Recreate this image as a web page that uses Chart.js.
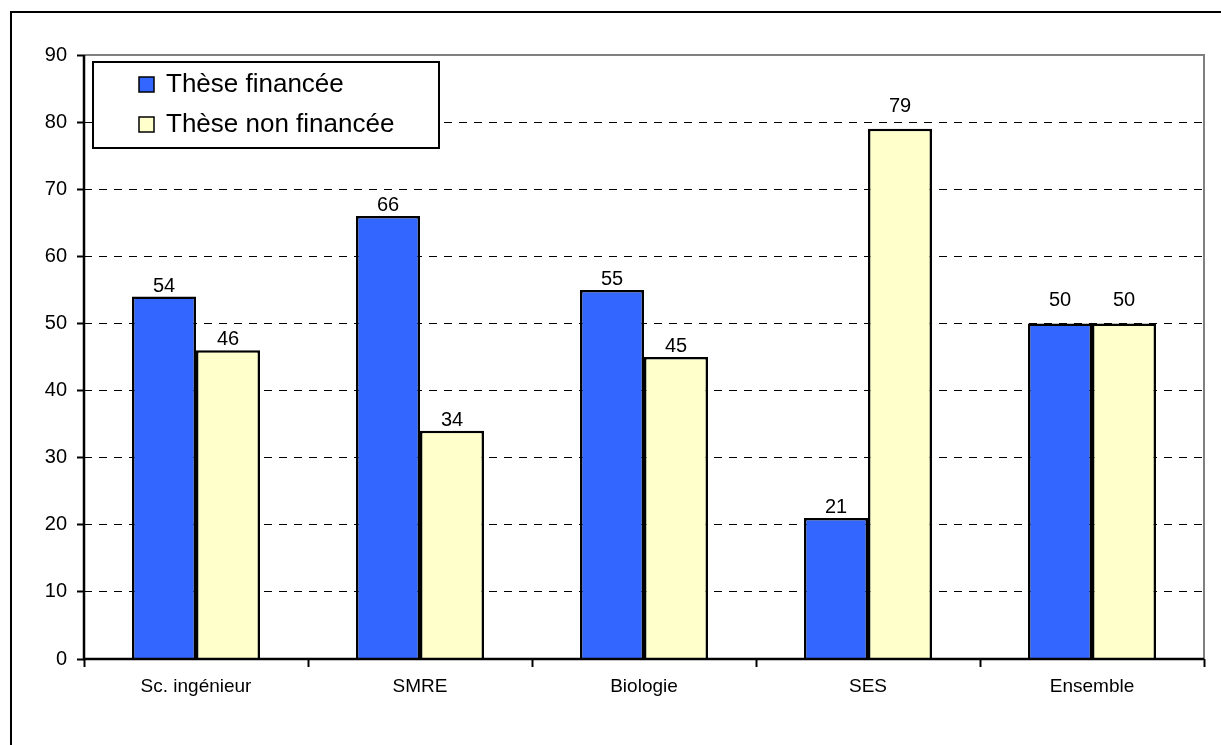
<!DOCTYPE html>
<html lang="fr">
<head>
<meta charset="utf-8">
<title>Thèses financées / non financées</title>
<script src="https://cdn.jsdelivr.net/npm/chart.js@4/dist/chart.umd.min.js"></script>
<style>
    html, body { margin: 0; padding: 0; background: #fff; }
    canvas { display: block; }
</style>
</head>
<body>
<canvas id="theseChart" width="1221" height="745"></canvas>
<script>
const categories = ["Sc. ingénieur", "SMRE", "Biologie", "SES", "Ensemble"];
const financee = [54, 66, 55, 21, 50];
const nonFinancee = [46, 34, 45, 79, 50];
const seriesNames = ["Thèse financée", "Thèse non financée"];
const yMax = 90;
const yStep = 10;

const FONT = "Arial, 'Liberation Sans', sans-serif";
Chart.defaults.color = "#000";
Chart.defaults.font.family = FONT;

// cadre extérieur (haut + gauche) et cadre de la zone de tracé
const framePlugin = {
    id: "frame",
    beforeDraw(chart) {
        const ctx = chart.ctx;
        ctx.save();
        ctx.fillStyle = "#fff";
        ctx.fillRect(0, 0, chart.width, chart.height);
        ctx.strokeStyle = "#000";
        ctx.lineWidth = 2;
        ctx.beginPath();
        ctx.moveTo(11, chart.height);
        ctx.lineTo(11, 12);
        ctx.lineTo(chart.width, 12);
        ctx.stroke();
        ctx.restore();
    },
    afterDatasetsDraw(chart) {
        const { ctx, chartArea: a } = chart;
        ctx.save();
        ctx.lineWidth = 2;
        ctx.strokeStyle = "#808080";
        ctx.beginPath();
        ctx.moveTo(a.left, a.top);
        ctx.lineTo(a.right, a.top);
        ctx.lineTo(a.right, a.bottom);
        ctx.stroke();
        ctx.strokeStyle = "#000";
        ctx.lineWidth = 2.5;
        ctx.beginPath();
        ctx.moveTo(a.left, a.top);
        ctx.lineTo(a.left, a.bottom);
        ctx.lineTo(a.right, a.bottom);
        ctx.stroke();
        ctx.restore();
    }
};

// valeurs au-dessus des barres ; remontées au-dessus d'une ligne de grille trop proche
const valueLabels = {
    id: "valueLabels",
    afterDatasetsDraw(chart) {
        const ctx = chart.ctx;
        const yScale = chart.scales.y;
        ctx.save();
        ctx.font = "20px " + FONT;
        ctx.fillStyle = "#000";
        ctx.textAlign = "center";
        ctx.textBaseline = "alphabetic";
        chart.data.datasets.forEach((ds, i) => {
            chart.getDatasetMeta(i).data.forEach((bar, j) => {
                const v = ds.data[j];
                const nextGrid = Math.ceil(v / yStep) * yStep;
                const gy = yScale.getPixelForValue(nextGrid);
                const gap = (bar.y - gy <= 14) ? 17 : 5;
                ctx.fillText(String(v), bar.x, bar.y - gap);
            });
        });
        ctx.restore();
    }
};

// légende encadrée dans le coin haut gauche
const boxLegend = {
    id: "boxLegend",
    afterDraw(chart) {
        const ctx = chart.ctx;
        const x = 93, y = 62, w = 346, h = 86;
        ctx.save();
        ctx.fillStyle = "#fff";
        ctx.fillRect(x, y, w, h);
        ctx.strokeStyle = "#000";
        ctx.lineWidth = 2;
        ctx.strokeRect(x, y, w, h);
        ctx.font = "26px " + FONT;
        ctx.textBaseline = "middle";
        chart.data.datasets.forEach((ds, i) => {
            const cy = y + 22 + i * 40;
            ctx.fillStyle = ds.backgroundColor;
            ctx.fillRect(139, cy - 7, 15, 15);
            ctx.lineWidth = 1.5;
            ctx.strokeRect(139, cy - 7, 15, 15);
            ctx.fillStyle = "#000";
            ctx.fillText(ds.label, 166, cy + 1);
        });
        ctx.restore();
    }
};

new Chart(document.getElementById("theseChart"), {
    type: "bar",
    data: {
        labels: categories,
        datasets: [
            {
                label: seriesNames[0],
                data: financee,
                backgroundColor: "#3366FF",
                borderColor: "#000",
                borderWidth: 2.5
            },
            {
                label: seriesNames[1],
                data: nonFinancee,
                backgroundColor: "#FFFFCC",
                borderColor: "#000",
                borderWidth: 2.5
            }
        ]
    },
    options: {
        responsive: false,
        animation: false,
        layout: { padding: { top: 55, right: 17, left: 0, bottom: 0 } },
        datasets: {
            bar: { categoryPercentage: 128 / 224, barPercentage: 1 }
        },
        plugins: {
            legend: { display: false },
            tooltip: { enabled: false }
        },
        scales: {
            x: {
                afterFit: scale => { scale.height = 86; },
                border: { display: false },
                grid: {
                    offset: true,
                    drawOnChartArea: false,
                    drawTicks: true,
                    tickLength: 8,
                    tickColor: "#000",
                    tickWidth: 2
                },
                ticks: {
                    font: { size: 19 },
                    padding: 8,
                    maxRotation: 0
                }
            },
            y: {
                min: 0,
                max: yMax,
                afterFit: scale => { scale.width = 84; },
                border: { display: false, dash: [8, 7] },
                grid: {
                    color: c => (c.tick && (c.tick.value === 0 || c.tick.value === yMax)) ? "rgba(0,0,0,0)" : "#000",
                    lineWidth: 1,
                    drawTicks: true,
                    tickLength: 7,
                    tickColor: "#000",
                    tickWidth: 2
                },
                ticks: {
                    stepSize: yStep,
                    font: { size: 20 },
                    padding: 10
                }
            }
        }
    },
    plugins: [framePlugin, valueLabels, boxLegend]
});
</script>
</body>
</html>
